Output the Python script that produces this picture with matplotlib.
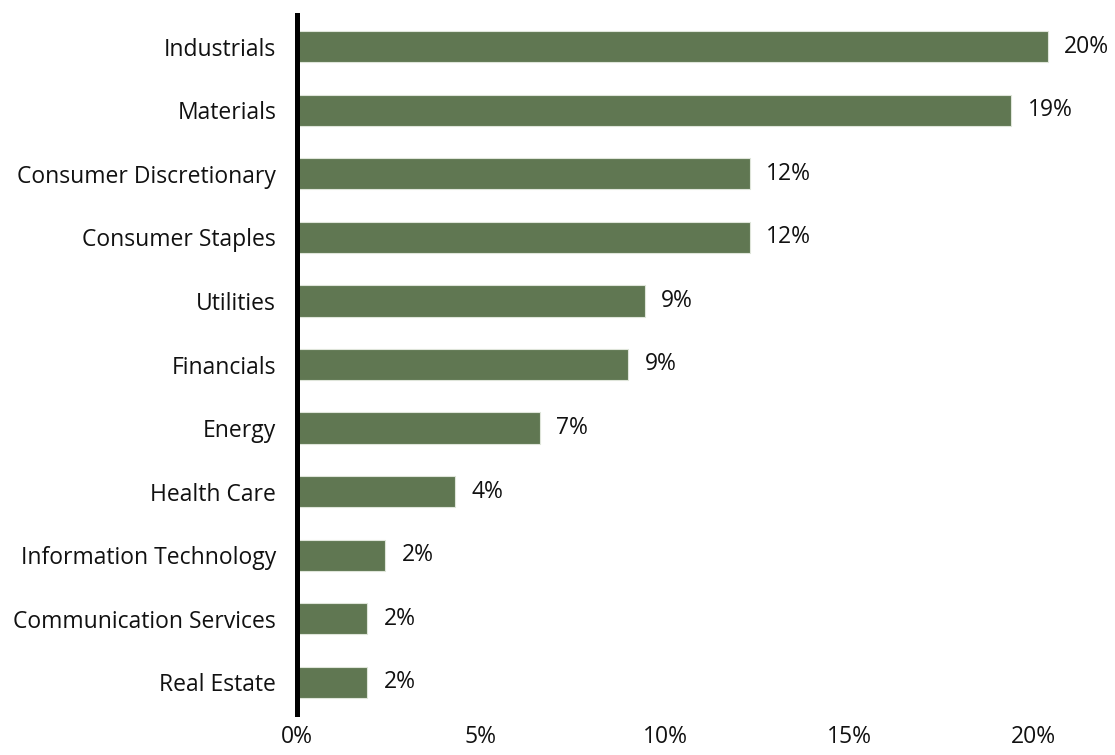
import matplotlib
matplotlib.use("Agg")
import matplotlib.pyplot as plt

sectors = [
    "Industrials", "Materials", "Consumer Discretionary", "Consumer Staples",
    "Utilities", "Financials", "Energy", "Health Care",
    "Information Technology", "Communication Services", "Real Estate",
]
weights = [20.4, 19.4, 12.3, 12.3, 9.45, 9.0, 6.6, 4.3, 2.4, 1.9, 1.9]
xticks = [0, 5, 10, 15, 20]

plt.rcParams["font.family"] = ["Open Sans", "DejaVu Sans"]

W, H = 1115, 755
x0_px, px_per_pct, xmax = 297, 36.8, 22.0
fig = plt.figure(figsize=(W / 100, H / 100), dpi=100)
ax = fig.add_axes([x0_px / W, 1 - 714 / H, xmax * px_per_pct / W, (714 - 15) / H])

ypos = list(range(len(sectors)))
ax.barh(ypos, weights, height=0.49, color="#607752", edgecolor="#dfe5da",
        linewidth=0.8, zorder=2)

# value labels just past the end of each bar
for y, w in zip(ypos, weights):
    ax.text(w + 0.45, y, f"{w:.0f}%", va="center", ha="left",
            fontsize=16.5, color="#111111")

ax.set_xlim(0, xmax)
ax.set_ylim(len(sectors) - 0.5, -0.5)
ax.set_yticks(ypos)
ax.set_yticklabels(sectors, fontsize=16.5, color="#111111")
ax.set_xticks(xticks)
ax.set_xticklabels([f"{t}%" for t in xticks], fontsize=16.5, color="#111111")
ax.tick_params(axis="both", length=0)
ax.tick_params(axis="y", pad=15)
ax.tick_params(axis="x", pad=8)

for side in ("top", "right", "bottom"):
    ax.spines[side].set_visible(False)
ax.spines["left"].set_linewidth(3.6)
ax.spines["left"].set_color("black")
ax.spines["left"].set_zorder(3)

fig.savefig("out.png", dpi=100, facecolor="white")
